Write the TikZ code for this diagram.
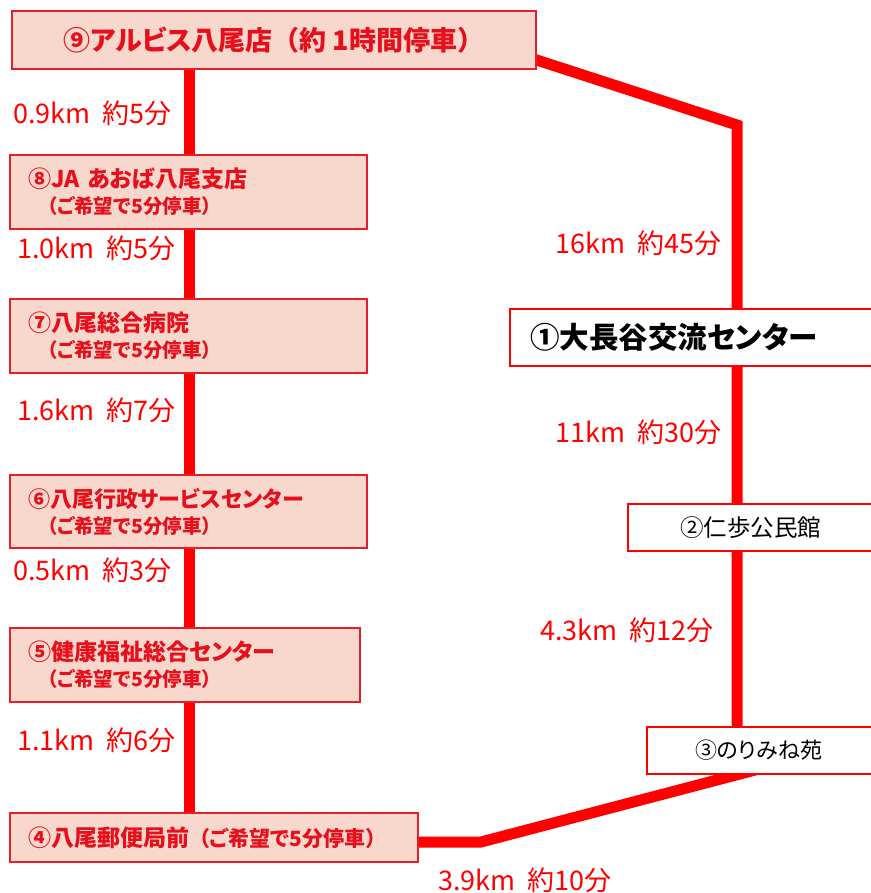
\documentclass[tikz,border=0pt]{standalone}
\usepackage{fontspec}
\setmainfont{Noto Sans CJK JP}[RawFeature=+palt]
\newfontfamily\plainjp{Noto Sans CJK JP}
\newcommand\lp{{\plainjp （}}
\newcommand\rp{{\plainjp ）}}
\usetikzlibrary{backgrounds,calc}
\definecolor{routered}{HTML}{FF0000}
\definecolor{boxpink}{HTML}{F8D7CD}
\definecolor{boxedge}{HTML}{E3202A}
\definecolor{txtred}{HTML}{E5101B}
\begin{document}
\begin{tikzpicture}[x=1pt,y=-1pt,
  pinkbox/.style={draw=boxedge, line width=1.3pt, fill=boxpink, text=txtred,
    inner ysep=0pt, inner xsep=18pt, align=left},
  whitebox/.style={draw=routered, line width=1.8pt, fill=white, text=black,
    inner ysep=0pt, align=left},
  twoline/.style={pinkbox, font=\bfseries\fontsize{#1}{26}\selectfont},
  twoline/.default=23,
  dist/.style={text=routered, font=\fontsize{27}{27}\selectfont, anchor=west, inner sep=0pt},
  route/.style={draw=routered, line width=11pt, line join=miter}]
\useasboundingbox (0,0) rectangle (870,893);

% stops on the left
\node[pinkbox, minimum width=524pt, minimum height=58pt, align=center,
  font=\bfseries\fontsize{27}{27}\selectfont] (n9) at (274,40) {⑨アルビス八尾店\lp 約 1時間停車\rp};
\node[twoline, text width=321pt, minimum height=74pt] (n8) at (188.5,192)
  {⑧JA あおば八尾支店\\{\fontsize{19.5}{26}\selectfont\hspace*{10pt}\lp ご希望で5分停車\rp}};
\node[twoline, text width=321pt, minimum height=74pt] (n7) at (188.5,336)
  {⑦八尾総合病院\\{\fontsize{19.5}{26}\selectfont\hspace*{10pt}\lp ご希望で5分停車\rp}};
\node[twoline=22, text width=321pt, minimum height=73pt] (n6) at (188.5,511.5)
  {⑥八尾行政サービスセンター\\{\fontsize{19.5}{26}\selectfont\hspace*{10pt}\lp ご希望で5分停車\rp}};
\node[twoline, text width=314pt, minimum height=74pt] (n5) at (185,665)
  {⑤健康福祉総合センター\\{\fontsize{19.5}{26}\selectfont\hspace*{10pt}\lp ご希望で5分停車\rp}};
\node[pinkbox, text width=372pt, minimum height=49pt,
  font=\bfseries\fontsize{23}{26}\selectfont] (n4) at (214,837.5)
  {④八尾郵便局前{\fontsize{21}{26}\selectfont\lp ご希望で5分停車\rp}};

% stops on the right
\node[whitebox, inner xsep=20pt, text width=330pt, minimum height=57pt,
  font=\bfseries\fontsize{29.5}{29.5}\selectfont] (n1) at (695,337.5) {①大長谷交流センター};
\node[whitebox, line width=1.5pt, inner xsep=52pt, text width=148pt, minimum height=47pt,
  font=\fontsize{23.5}{23.5}\selectfont] (n2) at (754,527.5) {②仁歩公民館};
\node[whitebox, line width=1.5pt, inner xsep=48pt, text width=137pt, minimum height=47pt,
  font=\fontsize{22}{22}\selectfont] (n3) at (763.5,750.5) {③のりみね苑};

% route
\coordinate (lx) at (189,0);
\coordinate (k1) at (737,125);
\coordinate (k2) at (481,842);
\begin{scope}[on background layer]
  \fill[white] (0,0) rectangle (870,893);
  \draw[route] (n9.south -| lx) -- (n4.north -| lx);
  \draw[route] ($(k1)!1.05!([yshift=-20pt]n9.east)$) -- (k1) -- (k1 |- n3.center);
  \draw[route] ($(k2)!1.1!(n3.south -| k1)$) -- (k2) -- (n4.east |- k2);
\end{scope}

% distances
\node[dist] (d98) at (13,113) {0.9km\ \ 約5分};
\node[dist] (d87) at (17,248) {1.0km\ \ 約5分};
\node[dist] (d76) at (17,410) {1.6km\ \ 約7分};
\node[dist] (d65) at (13,570) {0.5km\ \ 約3分};
\node[dist] (d54) at (17,740) {1.1km\ \ 約6分};
\node[dist] (d91) at (555,243) {16km\ \ 約45分};
\node[dist] (d12) at (555,432) {11km\ \ 約30分};
\node[dist] (d23) at (540,630) {4.3km\ \ 約12分};
\node[dist] (d34) at (438,880) {3.9km\ \ 約10分};
\end{tikzpicture}
\end{document}
